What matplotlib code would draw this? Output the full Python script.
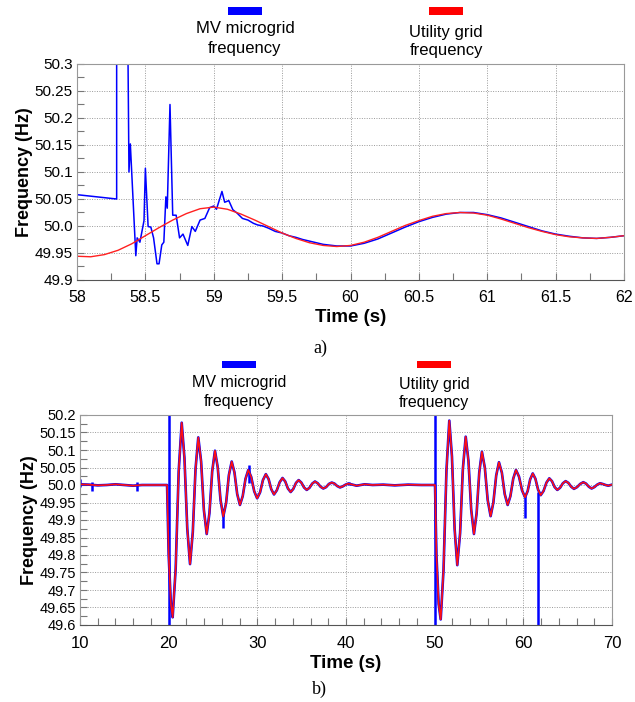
import matplotlib.pyplot as plt
from matplotlib.patches import Rectangle
from matplotlib.ticker import MultipleLocator, FuncFormatter

plt.rcParams['font.family'] = ['Liberation Sans', 'DejaVu Sans']

# ---- a) zoom 58-62 s ----
t_mv_a = [58.00, 58.29, 58.29, 58.37, 58.38, 58.39, 58.40, 58.43, 58.44, 58.46, 58.49, 58.50,
          58.52, 58.54, 58.56, 58.585, 58.60, 58.62, 58.635, 58.65, 58.66, 58.68, 58.70, 58.725,
          58.75, 58.775, 58.81, 58.84, 58.865, 58.90, 58.935, 58.97, 59.00, 59.02, 59.06, 59.08,
          59.11, 59.14, 59.17, 59.21, 59.25, 59.29, 59.32, 59.36, 59.40, 59.45, 59.50, 59.55,
          59.60, 59.65, 59.70, 59.75, 59.80, 59.90, 60.00, 60.10, 60.20, 60.30, 60.40, 60.50,
          60.60, 60.70, 60.80, 60.90, 61.00, 61.10, 61.20, 61.30, 61.40, 61.50, 61.60, 61.70,
          61.80, 61.90, 62.00]
f_mv_a = [50.058, 50.050, 50.400, 50.400, 50.100, 50.152, 50.100, 49.945, 49.978, 49.970, 50.010, 50.107,
          49.999, 49.998, 49.978, 49.930, 49.930, 49.965, 49.970, 50.054, 50.033, 50.225, 50.020, 50.020,
          49.978, 49.985, 49.964, 49.999, 49.990, 50.011, 50.014, 50.034, 50.037, 50.031, 50.064, 50.044,
          50.047, 50.030, 50.024, 50.014, 50.011, 50.005, 50.002, 50.000, 49.996, 49.990, 49.987, 49.982,
          49.979, 49.975, 49.972, 49.969, 49.966, 49.963, 49.963, 49.968, 49.976, 49.987, 49.998, 50.008,
          50.016, 50.022, 50.025, 50.025, 50.021, 50.015, 50.007, 49.999, 49.991, 49.985, 49.981, 49.978,
          49.977, 49.979, 49.982]

t_grid_a = [58.0, 58.1, 58.2, 58.3, 58.4, 58.5, 58.6, 58.7, 58.8, 58.9, 59.0, 59.1, 59.2, 59.3,
            59.4, 59.5, 59.6, 59.7, 59.8, 59.9, 60.0, 60.1, 60.2, 60.3, 60.4, 60.5, 60.6, 60.7,
            60.8, 60.9, 61.0, 61.1, 61.2, 61.3, 61.4, 61.5, 61.6, 61.7, 61.8, 61.9, 62.0]
f_grid_a = [49.944, 49.943, 49.947, 49.955, 49.967, 49.982, 49.997, 50.011, 50.023, 50.032, 50.035,
            50.031, 50.022, 50.011, 49.999, 49.987, 49.977, 49.969, 49.964, 49.962, 49.964, 49.970,
            49.979, 49.990, 50.001, 50.010, 50.018, 50.023, 50.025, 50.024, 50.020, 50.013, 50.005,
            49.997, 49.990, 49.984, 49.980, 49.978, 49.977, 49.979, 49.982]

# ---- b) 10-70 s ----
t_b = [10.0, 11.0, 12.0, 13.0, 14.0, 15.0, 16.0, 17.0, 18.0, 19.82,
       20.0, 20.25, 20.45, 20.79, 21.13, 21.47, 21.78, 22.10, 22.41, 22.72, 23.03, 23.34,
       23.66, 23.97, 24.29, 24.60, 24.91, 25.22, 25.53, 25.85, 26.16, 26.48, 26.79, 27.11,
       27.42, 27.73, 28.04, 28.35, 28.67, 28.98, 29.31, 29.65, 29.98, 30.31, 30.63, 30.96,
       31.27, 31.57, 31.88, 32.20, 32.52, 32.84, 33.15, 33.45, 33.76, 34.06, 34.36, 34.66,
       34.96, 35.27, 35.57, 35.88, 36.19, 36.50, 36.81, 37.13, 37.44, 37.76, 38.07, 38.39,
       38.70, 39.01, 39.32, 39.63, 39.95, 40.26, 40.57, 40.89, 41.2, 42.1, 43.0, 44.2,
       45.5, 47.0, 48.5, 50.04,
       50.2, 50.45, 50.68, 51.00, 51.33, 51.65, 51.95, 52.25, 52.55, 52.87, 53.18, 53.50,
       53.81, 54.12, 54.43, 54.73, 55.03, 55.33, 55.66, 55.98, 56.31, 56.62, 56.94, 57.25,
       57.58, 57.90, 58.23, 58.54, 58.86, 59.17, 59.51, 59.85, 60.19, 60.48, 60.77, 61.06,
       61.36, 61.66, 61.96, 62.28, 62.61, 62.93, 63.23, 63.53, 63.83, 64.14, 64.46, 64.77,
       65.08, 65.40, 65.71, 66.06, 66.41, 66.76, 67.07, 67.39, 67.70, 68.01, 68.33, 68.64,
       68.95, 69.27, 69.58, 70.0]
f_b = [50.002, 50.001, 49.999, 50.000, 50.002, 50.000, 49.998, 50.000, 50.000, 50.000,
       49.800, 49.660, 49.622, 49.761, 50.039, 50.178, 50.077, 49.875, 49.774, 49.865, 50.046, 50.136,
       50.067, 49.929, 49.860, 49.920, 50.039, 50.098, 50.051, 49.957, 49.910, 49.949, 50.028, 50.067,
       50.036, 49.974, 49.943, 49.968, 50.018, 50.043, 50.023, 49.982, 49.962, 49.979, 50.014, 50.031,
       50.017, 49.988, 49.973, 49.985, 50.008, 50.020, 50.010, 49.990, 49.980, 49.989, 50.006, 50.014,
       50.007, 49.993, 49.986, 49.992, 50.004, 50.010, 50.005, 49.995, 49.990, 49.994, 50.003, 50.007,
       50.004, 49.997, 49.993, 49.996, 50.001, 50.004, 50.002, 50.000, 49.998, 50.002, 50.000, 50.001,
       49.999, 50.001, 50.000, 50.000,
       49.800, 49.660, 49.616, 49.758, 50.042, 50.184, 50.081, 49.874, 49.771, 49.863, 50.046, 50.138,
       50.069, 49.930, 49.860, 49.919, 50.036, 50.095, 50.049, 49.957, 49.911, 49.950, 50.027, 50.065,
       50.035, 49.974, 49.943, 49.968, 50.018, 50.043, 50.024, 49.985, 49.965, 49.982, 50.016, 50.033,
       50.018, 49.987, 49.971, 49.983, 50.007, 50.019, 50.011, 49.994, 49.986, 49.992, 50.005, 50.011,
       50.006, 49.995, 49.989, 49.994, 50.003, 50.008, 50.004, 49.995, 49.990, 49.994, 50.001, 50.005,
       50.003, 50.000, 49.998, 50.001]

# spikes seen only on the MV microgrid trace
spike_t = [10.05, 11.39, 16.39, 20.0, 26.09, 29.09, 40.3, 50.04, 60.23, 61.69]
spike_lo = [49.995, 49.984, 49.984, 49.6, 49.876, 50.005, 49.999, 49.6, 49.907, 49.6]
spike_hi = [50.017, 50.010, 50.010, 50.2, 49.930, 50.057, 50.008, 50.2, 49.970, 49.980]


def yfmt(v, pos):
    s = ('%.2f' % v).rstrip('0')
    return s + '0' if s.endswith('.') else s


def style(ax, xmaj, xmin, fs_x, fs_y, xpad, lpad):
    ax.yaxis.set_major_locator(MultipleLocator(0.05))
    ax.yaxis.set_minor_locator(MultipleLocator(0.025))
    ax.yaxis.set_major_formatter(FuncFormatter(yfmt))
    ax.xaxis.set_major_locator(MultipleLocator(xmaj))
    ax.xaxis.set_minor_locator(MultipleLocator(xmin))
    ax.xaxis.set_major_formatter(FuncFormatter(lambda v, p: '%g' % v))
    ax.grid(True, which='major', color='#9a9a9a', linestyle=(0, (1, 1.5)), linewidth=0.7)
    ax.tick_params(which='both', direction='in', color='#777777', length=5, width=0.8)
    ax.tick_params(axis='x', labelsize=fs_x, pad=xpad)
    ax.tick_params(axis='y', labelsize=fs_y, pad=3)
    for s in ['top', 'right', 'left']:
        ax.spines[s].set_color('#999999')
    ax.spines['bottom'].set_color('#555555')
    ax.set_xlabel('Time (s)', fontsize=13.5, fontweight='bold', labelpad=lpad)
    ax.set_ylabel('Frequency (Hz)', fontsize=13, fontweight='bold', labelpad=1)


fig = plt.figure(figsize=(6.35, 7.02), dpi=100)

ax1 = fig.add_axes([77 / 635, 1 - 280 / 702, 547 / 635, 216 / 702])
ax1.plot(t_mv_a, f_mv_a, color='#0000ff', lw=1.1)
ax1.plot(t_grid_a, f_grid_a, color='#ff2020', lw=1.0)
ax1.set_xlim(58, 62)
ax1.set_ylim(49.9, 50.3)
style(ax1, 0.5, 0.25, 11.5, 11, 7, 3)

ax2 = fig.add_axes([80 / 635, 1 - 625 / 702, 532 / 635, 210 / 702])
ax2.plot(t_b, f_b, color='#0000ff', lw=1.9)
ax2.vlines(spike_t, spike_lo, spike_hi, color='#0000ff', lw=1.8)
ax2.plot(t_b, f_b, color='#ff1010', lw=1.2)
ax2.set_xlim(10, 70)
ax2.set_ylim(49.6, 50.2)
style(ax2, 10, 2, 12, 10.5, 8, 3)


def legend_item(xc, ybar, y1, y2, color, line1, fs):
    fig.add_artist(Rectangle(((xc - 17) / 635, 1 - (ybar + 3.5) / 702), 34 / 635, 7 / 702,
                             transform=fig.transFigure, color=color, lw=0))
    fig.text(xc / 635, 1 - y1 / 702, line1, ha='center', va='center', fontsize=fs)
    fig.text(xc / 635, 1 - y2 / 702, 'frequency', ha='center', va='center', fontsize=fs)


legend_item(245, 11, 28, 48, '#0000ff', 'MV microgrid', 12)
legend_item(446, 11, 32, 51, '#ff0000', 'Utility grid', 12)
legend_item(239, 365, 382, 401, '#0000ff', 'MV microgrid', 11.5)
legend_item(434, 365, 384, 403, '#ff0000', 'Utility grid', 11.5)

fig.text(320 / 635, 1 - 348 / 702, 'a)', ha='center', va='center', fontsize=13,
         family='Liberation Serif')
fig.text(319 / 635, 1 - 689 / 702, 'b)', ha='center', va='center', fontsize=13,
         family='Liberation Serif')

fig.savefig('out.png', dpi=100)
